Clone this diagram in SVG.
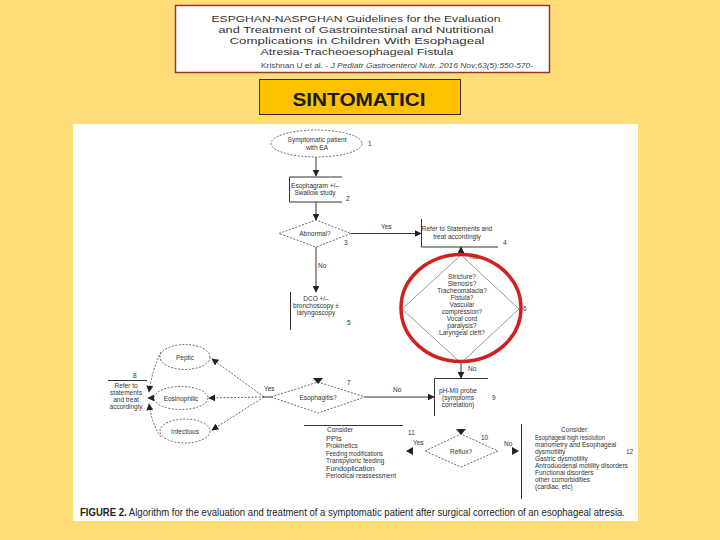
<svg xmlns="http://www.w3.org/2000/svg" width="720" height="540" viewBox="0 0 720 540">
<defs>
<style>
.t{font-family:"Liberation Sans",Arial,sans-serif;fill:#333;font-size:6.5px}
.c{text-anchor:middle}
.ln{stroke:#333;stroke-width:1;fill:none}
.dl{stroke:#444;stroke-width:0.8;fill:none;stroke-dasharray:2 1.5}
.ttl{font-family:"Liberation Sans",Arial,sans-serif;fill:#333;font-size:9.8px;text-anchor:middle}
.big{font-size:7.5px}
</style>
<marker id="ah" viewBox="0 0 10 10" refX="9" refY="5" markerWidth="7" markerHeight="7" markerUnits="userSpaceOnUse" orient="auto"><path d="M0,0L10,5L0,10z" fill="#222"/></marker>
</defs>
<rect width="720" height="540" fill="#FFDE7A"/>
<g id="title">
<rect x="175.5" y="5.5" width="374" height="67" fill="#fff" stroke="#9A3324" stroke-width="1.5"/>
<text class="ttl" x="356" y="22" textLength="289" lengthAdjust="spacingAndGlyphs">ESPGHAN-NASPGHAN Guidelines for the Evaluation</text>
<text class="ttl" x="356" y="33" textLength="275" lengthAdjust="spacingAndGlyphs">and Treatment of Gastrointestinal and Nutritional</text>
<text class="ttl" x="357" y="44" textLength="255" lengthAdjust="spacingAndGlyphs">Complications in Children With Esophageal</text>
<text class="ttl" x="357" y="55" textLength="193" lengthAdjust="spacingAndGlyphs">Atresia-Tracheoesophageal Fistula</text>
<text x="261" y="68" font-family="Liberation Sans,Arial,sans-serif" font-size="8" fill="#444" textLength="272" lengthAdjust="spacingAndGlyphs">Krishnan U et al. - <tspan font-style="italic">J Pediatr Gastroenterol Nutr. 2016 Nov;63(5):550-570-</tspan></text>
</g>
<g id="header">
<rect x="259.5" y="79.5" width="201" height="35" fill="#FFC000" stroke="#3A2A00" stroke-width="1"/>
<text x="359" y="106" font-family="Liberation Sans,Arial,sans-serif" font-weight="bold" font-size="19" fill="#1a1a1a" text-anchor="middle" textLength="133" lengthAdjust="spacingAndGlyphs">SINTOMATICI</text>
</g>
<rect x="73" y="124" width="565" height="397" fill="#fff"/>
<g id="connectors">
<line class="ln" x1="316" y1="157" x2="316" y2="176" marker-end="url(#ah)"/>
<line class="ln" x1="316" y1="202" x2="316" y2="220" marker-end="url(#ah)"/>
<line class="ln" x1="351" y1="233.5" x2="421" y2="233.5" marker-end="url(#ah)"/>
<line class="ln" x1="316" y1="247" x2="316" y2="292" marker-end="url(#ah)"/>
<line class="ln" x1="461" y1="256" x2="461" y2="247" marker-end="url(#ah)"/>
<line class="ln" x1="461" y1="363" x2="461" y2="378" marker-end="url(#ah)"/>
<line class="ln" x1="365" y1="397" x2="434" y2="397" marker-end="url(#ah)"/>
<path d="M313,378L323,378L318,384z" fill="#222"/>
<path d="M456,429L466,429L461,435z" fill="#222"/>
<line class="ln" x1="271" y1="397" x2="264" y2="397"/>
<line class="dl" x1="264" y1="397" x2="212" y2="359" marker-end="url(#ah)"/>
<line class="dl" x1="264" y1="397" x2="209" y2="398" marker-end="url(#ah)"/>
<line class="dl" x1="264" y1="397" x2="212" y2="430" marker-end="url(#ah)"/>
<path class="dl" d="M161,352Q152,370 149,392" marker-end="url(#ah)"/>
<line class="dl" x1="154" y1="398" x2="148" y2="398" marker-end="url(#ah)"/>
<path class="dl" d="M161,437Q152,425 149,404" marker-end="url(#ah)"/>
<path d="M413,447L413,455L406,451z" fill="#222"/>
<path d="M512,447L512,455L519,451z" fill="#222"/>
</g>
<g id="n1">
<ellipse class="dl" cx="316.5" cy="143.5" rx="45.5" ry="13.5"/>
<text class="t c" x="317" y="142">Symptomatic patient</text>
<text class="t c" x="317" y="149.5">with EA</text>
<text class="t" x="368" y="146">1</text>
</g>
<g id="n2">
<path class="ln" d="M342,177H289.5V202H342"/>
<text class="t c" x="315" y="188">Esophagram +/–</text>
<text class="t c" x="315" y="195">Swallow study</text>
<text class="t" x="346" y="201">2</text>
</g>
<g id="n3">
<path class="dl" d="M279,233.5L316,220L351,233.5L316,247z"/>
<text class="t c" x="315" y="236">Abnormal?</text>
<text class="t" x="344" y="245">3</text>
<text class="t" x="381" y="229">Yes</text>
<text class="t" x="318" y="268">No</text>
</g>
<g id="n4">
<path class="ln" d="M421.5,219V247H498"/>
<text class="t c" x="457" y="231">Refer to Statements and</text>
<text class="t c" x="457" y="239">treat accordingly</text>
<text class="t" x="503" y="245">4</text>
</g>
<g id="n5">
<line class="ln" x1="290.5" y1="292" x2="290.5" y2="330"/>
<text class="t c" x="316" y="301">DCO +/–</text>
<text class="t c" x="316" y="308">bronchoscopy ±</text>
<text class="t c" x="316" y="315">laryngoscopy</text>
<text class="t" x="347" y="325">5</text>
</g>
<g id="n6">
<path d="M402,309L461,255L519,309L461,363z" fill="none" stroke="#555" stroke-width="0.6"/>
<text class="t c" x="462" y="279">Stricture?</text>
<text class="t c" x="462" y="286">Stenosis?</text>
<text class="t c" x="462" y="293">Tracheomalacia?</text>
<text class="t c" x="462" y="300">Fistula?</text>
<text class="t c" x="462" y="307">Vascular</text>
<text class="t c" x="462" y="314">compression?</text>
<text class="t c" x="462" y="321">Vocal cord</text>
<text class="t c" x="462" y="328">paralysis?</text>
<text class="t c" x="462" y="335">Laryngeal cleft?</text>
<text class="t" x="523" y="311" font-size="5">6</text>
<text class="t" x="470" y="259">No</text>
<text class="t" x="468" y="371">No</text>
<ellipse cx="461" cy="308" rx="60" ry="53.5" fill="none" stroke="#D21F1F" stroke-width="3.5"/>
</g>
<g id="n7">
<path class="dl" d="M271,397L318,382L365,397L318,413z"/>
<text class="t c" x="318" y="399.5">Esophagitis?</text>
<text class="t" x="347" y="385">7</text>
<text class="t" x="264" y="391">Yes</text>
<text class="t" x="393" y="392">No</text>
</g>
<g id="n8">
<line class="ln" x1="108" y1="380.5" x2="147" y2="380.5"/>
<text class="t" x="133" y="378">8</text>
<text class="t c" x="126" y="388">Refer to</text>
<text class="t c" x="126" y="395">statements</text>
<text class="t c" x="126" y="402">and treat</text>
<text class="t c" x="126" y="409">accordingly</text>
</g>
<g id="peptic">
<ellipse class="dl" cx="185" cy="357" rx="25" ry="12.5"/>
<text class="t c" x="185" y="359.5">Peptic</text>
</g>
<g id="eosinophilic">
<ellipse class="dl" cx="181" cy="398" rx="27" ry="11.5"/>
<text class="t c" x="181" y="400.5">Eosinophilic</text>
</g>
<g id="infectious">
<ellipse class="dl" cx="185" cy="431" rx="25" ry="12"/>
<text class="t c" x="185" y="433.5">Infectious</text>
</g>
<g id="n9">
<path class="ln" d="M488,378.5H434.5V416"/>
<text class="t c" x="458" y="393">pH-MII probe</text>
<text class="t c" x="458" y="400">(symptoms</text>
<text class="t c" x="458" y="407">correlation)</text>
<text class="t" x="492" y="400">9</text>
</g>
<g id="n10">
<path class="dl" d="M425,451L461,434L498,451L461,467z"/>
<text class="t c" x="461" y="453.5">Reflux?</text>
<text class="t" x="481" y="440">10</text>
<text class="t" x="413" y="445">Yes</text>
<text class="t" x="504" y="446">No</text>
</g>
<g id="n11">
<line class="ln" x1="304" y1="425.5" x2="403" y2="425.5"/>
<text class="t" x="408" y="435">11</text>
<text class="t c" x="340" y="432" font-size="6">Consider</text>
<text class="t big" x="326" y="441">PPIs</text>
<text class="t" x="326" y="448">Prokinetics</text>
<text class="t big" x="326" y="456" textLength="57" lengthAdjust="spacingAndGlyphs">Feeding modifications</text>
<text class="t" x="326" y="463" font-size="6">Transpyloric feeding</text>
<text class="t big" x="326" y="471">Fundoplication</text>
<text class="t" x="326" y="478" textLength="70" lengthAdjust="spacingAndGlyphs">Periodical reassessment</text>
</g>
<g id="n12">
<line class="ln" x1="521.5" y1="424" x2="521.5" y2="499"/>
<text class="t c" x="575" y="432" font-size="6">Consider:</text>
<text class="t big" x="535" y="440" textLength="70" lengthAdjust="spacingAndGlyphs">Esophageal high resolution</text>
<text class="t" x="535" y="447" font-size="5.5">manometry and Esophageal</text>
<text class="t" x="535" y="454" font-size="5.5">dysmotility</text>
<text class="t" x="535" y="461" font-size="6">Gastric dysmotility</text>
<text class="t" x="535" y="468" font-size="5.5">Antroduodenal motility disorders</text>
<text class="t" x="535" y="475" font-size="6">Functional disorders</text>
<text class="t" x="535" y="482" font-size="5.5">other comorbidities</text>
<text class="t" x="535" y="489" font-size="5.5">(cardiac, etc)</text>
<text class="t" x="626" y="454">12</text>
</g>
<g id="caption">
<text x="80" y="516" font-family="Liberation Sans,Arial,sans-serif" font-size="10.5" fill="#222" textLength="545" lengthAdjust="spacingAndGlyphs"><tspan font-weight="bold">FIGURE 2.</tspan>  Algorithm for the evaluation and treatment of a symptomatic patient after surgical correction of an esophageal atresia.</text>
</g>
</svg>
